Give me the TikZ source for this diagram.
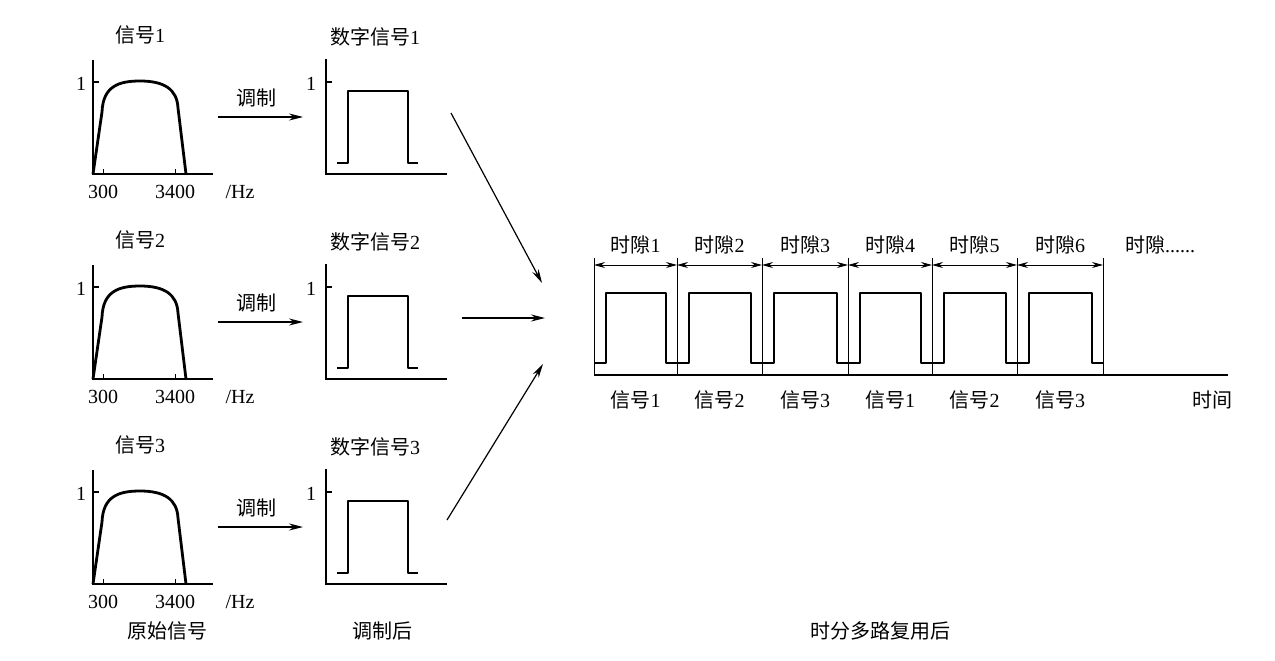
\documentclass[tikz,border=0pt]{standalone}
\usepackage{fontspec}
\setmainfont{Liberation Serif}
\newfontfamily\cjk{Noto Sans CJK SC}
\usetikzlibrary{arrows.meta}
\newcommand\zh[1]{{\cjk #1}}
\tikzset{
  lbl/.style={font=\fontsize{20}{23}\selectfont, inner sep=0pt},
  axisline/.style={line width=1.5pt},
  tickline/.style={line width=0.9pt},
  sig/.style={line width=2.8pt, line join=round},
  arr/.style={line width=1.2pt, -{Stealth[length=14pt,width=7pt]}},
  slotline/.style={line width=1pt},
  slotarr/.style={line width=0.9pt, {Stealth[length=11pt,width=6pt]}-{Stealth[length=11pt,width=6pt]}},
}
\begin{document}
\begin{tikzpicture}[x=1pt,y=-1pt]
\useasboundingbox (0,0) rectangle (1275,661);
\foreach \r/\n in {0/1,1/2,2/3}{
  \begin{scope}[shift={(0,\r*205)}]
    % original signal
    \node[lbl] (st\n) at (140,35) {\zh{信号}\n};
    \draw[axisline] (93,60) -- (93,174) -- (213,174);
    \draw[axisline] (93,82) -- (99,82);
    \node[lbl] (so\n) at (81,84) {1};
    \draw[sig] (93,174) -- (102,112) .. controls (103,86) and (119,81) .. (140,81)
      .. controls (164,81) and (177,89) .. (178,108) -- (186,174);
    \draw[tickline] (103,174) -- (103,169);
    \draw[tickline] (175,174) -- (175,169);
    \node[lbl] (sa\n) at (103,192) {300};
    \node[lbl] (sb\n) at (175,192) {3400};
    \node[lbl] (sh\n) at (240,192) {/Hz};
    % modulation arrow
    \coordinate (ma\n) at (218,117);
    \coordinate (mb\n) at (303,117);
    \draw[arr] (ma\n) -- (mb\n);
    \node[lbl] (ml\n) at (256,98) {\zh{调制}};
    % digital signal
    \node[lbl] (dt\n) at (375,37) {\zh{数字信号}\n};
    \draw[axisline] (326,59) -- (326,174) -- (447,174);
    \draw[axisline] (326,82) -- (332,82);
    \node[lbl] (do\n) at (311,84) {1};
    \draw[sig] (337,163) -- (348,163) -- (348,91) -- (408,91) -- (408,163) -- (418,163);
  \end{scope}
}
% arrows into multiplexer
\coordinate (in1) at (451,113);
\coordinate (t1) at (542,283);
\coordinate (in2) at (462,318);
\coordinate (t2) at (545,318);
\coordinate (in3) at (447,520);
\coordinate (t3) at (543,364);
\draw[arr] (in1) -- (t1);
\draw[arr] (in2) -- (t2);
\draw[arr] (in3) -- (t3);
% time-division multiplexed signal
\coordinate (ax0) at (594,375);
\coordinate (ax1) at (1228,375);
\draw[axisline] (ax0) -- (ax1);
\draw[slotline] (594,258) -- (594,375);
\foreach \a/\b/\k/\s in {594/677/1/1,677/762/2/2,762/848/3/3,848/932/4/1,932/1017/5/2,1017/1103/6/3}{
  \draw[slotline] (\b,258) -- (\b,375);
  \coordinate (la\k) at (\a,265);
  \coordinate (lb\k) at (\b,265);
  \draw[slotarr] (la\k) -- (lb\k);
  \node[lbl] (sl\k) at ({(\a+\b)/2},245) {\zh{时隙}\k};
  \node[lbl] (sg\k) at ({(\a+\b)/2},400) {\zh{信号}\s};
  \draw[sig] (\a,363) -- ({\a+12},363) -- ({\a+12},293) -- ({\b-11},293) -- ({\b-11},363) -- (\b,363);
}
\node[lbl] (slx) at (1160,245) {\zh{时隙}......};
\node[lbl] (tm) at (1212,400) {\zh{时间}};
% captions
\node[lbl] (c1) at (167,631) {\zh{原始信号}};
\node[lbl] (c2) at (382,631) {\zh{调制后}};
\node[lbl] (c3) at (880,631) {\zh{时分多路复用后}};
\end{tikzpicture}
\end{document}
